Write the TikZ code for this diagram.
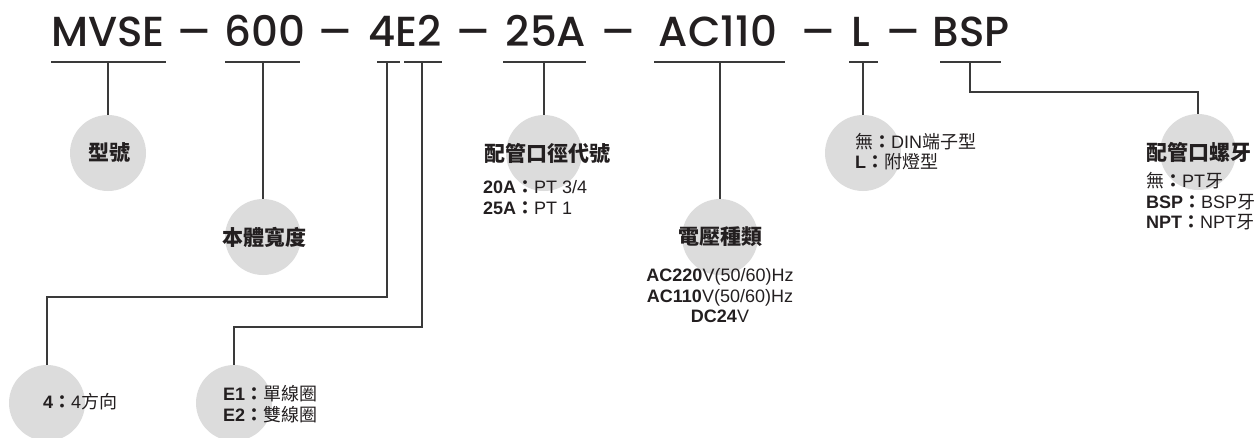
\documentclass[tikz,border=0pt]{standalone}
\usepackage{fontspec}
\setmainfont{Liberation Sans}
\newfontfamily\titlefont{Poppins Medium}
\newfontfamily\cjk{Noto Sans CJK TC}
\newcommand\fwcolon{{\cjk\bfseries ：}}
\newcommand\zh[1]{{\cjk #1}}
\newcommand\cdash{\scalebox{1.2}[1]{–}}
\definecolor{inkc}{HTML}{231F20}
\definecolor{linec}{HTML}{3A3A3A}
\definecolor{bubblec}{HTML}{DCDCDC}
\begin{document}
\begin{tikzpicture}[x=1pt,y=-1pt,
  conn/.style={draw=linec, line width=1.5pt},
  bubble/.style={circle, fill=bubblec, minimum size=76pt, inner sep=0pt},
  code/.style={font=\titlefont\fontsize{42}{42}\selectfont, text=inkc, inner sep=0pt, anchor=base},
  head/.style={font=\cjk\bfseries\fontsize{21}{21}\selectfont, text=inkc, inner sep=0pt},
  desc/.style={font=\rmfamily\fontsize{18}{20}\selectfont, text=inkc, inner sep=0pt, anchor=base west},
  descc/.style={desc, anchor=base}]
\useasboundingbox (0,0) rectangle (1259,437);
% bubbles
\node[bubble] (b1) at (108,153) {};
\node[bubble] (b2) at (263,237) {};
\node[bubble] (b3) at (47,403) {};
\node[bubble] (b4) at (234,403) {};
\node[bubble] (b5) at (544,153) {};
\node[bubble] (b6) at (720,237) {};
\node[bubble] (b7) at (863,153) {};
\node[bubble] (b8) at (1198,152) {};
% code
\node[code] (t1) at (108,46.5) {MVSE};
\node[code] (d1) at (194.5,46.5) {\cdash};
\node[code] (t2) at (265,46.5) {600};
\node[code] (d2) at (335.5,46.5) {\cdash};
\node[code] (t3) at (405,46.5) {4E2};
\node[code] (d3) at (473.5,46.5) {\cdash};
\node[code] (t4) at (546,46.5) {25A};
\node[code] (d4) at (618,46.5) {\cdash};
\node[code] (t5) at (718,46.5) {AC110};
\node[code] (d5) at (818,46.5) {\cdash};
\node[code] (t6) at (861,46.5) {L};
\node[code] (d6) at (903,46.5) {\cdash};
\node[code] (t7) at (971,46.5) {BSP};
% underlines
\coordinate (u1a) at (51,62);  \coordinate (u1b) at (166,62);
\coordinate (u2a) at (225,62); \coordinate (u2b) at (300,62);
\coordinate (u3a) at (377,62); \coordinate (u3b) at (400,62);
\coordinate (u4a) at (404,62); \coordinate (u4b) at (442,62);
\coordinate (u5a) at (503,62); \coordinate (u5b) at (586,62);
\coordinate (u6a) at (654,62); \coordinate (u6b) at (785,62);
\coordinate (u7a) at (849,62); \coordinate (u7b) at (878,62);
\coordinate (u8a) at (940,62); \coordinate (u8b) at (1001,62);
\foreach \i in {1,...,8} {\draw[conn] (u\i a) -- (u\i b);}
% stems
\coordinate (s1) at (108,62);
\coordinate (s2) at (263,62);
\coordinate (s3) at (387,62);
\coordinate (s4) at (422,62);
\coordinate (s5) at (544,62);
\coordinate (s6) at (720,62);
\coordinate (s7) at (863,62);
\coordinate (s8) at (970,62);
\coordinate (k3) at (387,297);
\coordinate (k4) at (422,327);
\coordinate (k8) at (970,92);
\draw[conn] (s1) -- (b1.north);
\draw[conn] (s2) -- (b2.north);
\draw[conn] (s3) -- (k3) -| (b3.north);
\draw[conn] (s4) -- (k4) -| (b4.north);
\draw[conn] (s5) -- (b5.north);
\draw[conn] (s6) -- (b6.north);
\draw[conn] (s7) -- (b7.north);
\draw[conn] (s8) -- (k8) -| (b8.north);
% headings
\node[head] (h1) at (109,153) {型號};
\node[head] (h2) at (264,237) {本體寬度};
\node[head] (h5) at (547,153) {配管口徑代號};
\node[head] (h6) at (720,237) {電壓種類};
\node[head, anchor=west] (h8) at (1146,152) {配管口螺牙};
% descriptions
\node[desc] (e3) at (43,408) {\textbf{4}\fwcolon 4\zh{方向}};
\node[desc] (e4a) at (223,400) {\textbf{E1}\fwcolon\zh{單線圈}};
\node[desc] (e4b) at (223,421) {\textbf{E2}\fwcolon\zh{雙線圈}};
\node[desc] (e5a) at (483,193) {\textbf{20A}\fwcolon PT 3/4};
\node[desc] (e5b) at (483,214) {\textbf{25A}\fwcolon PT 1};
\node[descc] (e6a) at (720,281) {\textbf{AC220}V(50/60)Hz};
\node[descc] (e6b) at (720,302) {\textbf{AC110}V(50/60)Hz};
\node[descc] (e6c) at (720,322) {\textbf{DC24}V};
\node[desc] (e7a) at (855,148) {\zh{無}\fwcolon DIN\zh{端子型}};
\node[desc] (e7b) at (855,168) {\textbf{L}\fwcolon\zh{附燈型}};
\node[desc] (e8a) at (1146,187) {\zh{無}\fwcolon PT\zh{牙}};
\node[desc] (e8b) at (1146,208) {\textbf{BSP}\fwcolon BSP\zh{牙}};
\node[desc] (e8c) at (1146,228) {\textbf{NPT}\fwcolon NPT\zh{牙}};
\end{tikzpicture}
\end{document}
